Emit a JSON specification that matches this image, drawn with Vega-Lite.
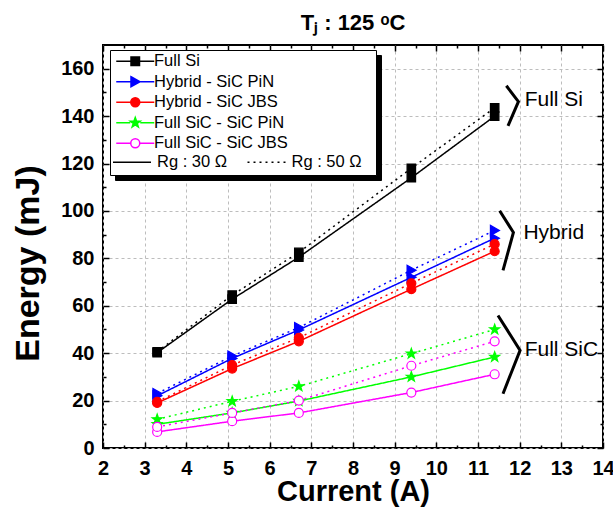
{
  "$schema": "https://vega.github.io/schema/vega-lite/v6.json",
  "width": 500,
  "height": 403,
  "autosize": {"type": "none"},
  "padding": {"left": 103, "top": 45, "right": 10, "bottom": 66},
  "background": "white",
  "config": {
    "font": "Liberation Sans",
    "view": {"stroke": "black", "strokeWidth": 2},
    "axis": {
      "labelFont": "Liberation Sans", "labelFontWeight": "bold", "labelFontSize": 20, "labelColor": "black",
      "titleFont": "Liberation Sans", "titleFontWeight": "bold", "titleColor": "black",
      "tickColor": "black", "tickWidth": 1.5, "domain": false,
      "gridColor": "#bdbdbd", "gridDash": [3, 3], "gridWidth": 1
    }
  },
  "title": {"text": "Tⱼ : 125 ᵒC", "fontSize": 22, "font": "Liberation Sans", "fontWeight": "bold", "color": "black", "anchor": "middle", "baseline": "alphabetic", "offset": 14, "dy": 22},
  "datasets": {
    "energy": [
      {"series": "Full Si", "rg": "Rg : 30 Ω", "current": 3.3, "energy": 40.2},
      {"series": "Full Si", "rg": "Rg : 30 Ω", "current": 5.1, "energy": 62.8},
      {"series": "Full Si", "rg": "Rg : 30 Ω", "current": 6.7, "energy": 80.5},
      {"series": "Full Si", "rg": "Rg : 30 Ω", "current": 9.4, "energy": 114},
      {"series": "Full Si", "rg": "Rg : 30 Ω", "current": 11.4, "energy": 140},
      {"series": "Full Si", "rg": "Rg : 50 Ω", "current": 3.3, "energy": 40.6},
      {"series": "Full Si", "rg": "Rg : 50 Ω", "current": 5.1, "energy": 64.5},
      {"series": "Full Si", "rg": "Rg : 50 Ω", "current": 6.7, "energy": 82.5},
      {"series": "Full Si", "rg": "Rg : 50 Ω", "current": 9.4, "energy": 118},
      {"series": "Full Si", "rg": "Rg : 50 Ω", "current": 11.4, "energy": 143.5},
      {"series": "Hybrid - SiC PiN", "rg": "Rg : 30 Ω", "current": 3.3, "energy": 22},
      {"series": "Hybrid - SiC PiN", "rg": "Rg : 30 Ω", "current": 5.1, "energy": 37.8},
      {"series": "Hybrid - SiC PiN", "rg": "Rg : 30 Ω", "current": 6.7, "energy": 49.8},
      {"series": "Hybrid - SiC PiN", "rg": "Rg : 30 Ω", "current": 9.4, "energy": 72},
      {"series": "Hybrid - SiC PiN", "rg": "Rg : 30 Ω", "current": 11.4, "energy": 88.5},
      {"series": "Hybrid - SiC PiN", "rg": "Rg : 50 Ω", "current": 3.3, "energy": 23},
      {"series": "Hybrid - SiC PiN", "rg": "Rg : 50 Ω", "current": 5.1, "energy": 38.8},
      {"series": "Hybrid - SiC PiN", "rg": "Rg : 50 Ω", "current": 6.7, "energy": 50.8},
      {"series": "Hybrid - SiC PiN", "rg": "Rg : 50 Ω", "current": 9.4, "energy": 75},
      {"series": "Hybrid - SiC PiN", "rg": "Rg : 50 Ω", "current": 11.4, "energy": 91.8},
      {"series": "Hybrid - SiC JBS", "rg": "Rg : 30 Ω", "current": 3.3, "energy": 19},
      {"series": "Hybrid - SiC JBS", "rg": "Rg : 30 Ω", "current": 5.1, "energy": 33.5},
      {"series": "Hybrid - SiC JBS", "rg": "Rg : 30 Ω", "current": 6.7, "energy": 45},
      {"series": "Hybrid - SiC JBS", "rg": "Rg : 30 Ω", "current": 9.4, "energy": 67},
      {"series": "Hybrid - SiC JBS", "rg": "Rg : 30 Ω", "current": 11.4, "energy": 83},
      {"series": "Hybrid - SiC JBS", "rg": "Rg : 50 Ω", "current": 3.3, "energy": 19.5},
      {"series": "Hybrid - SiC JBS", "rg": "Rg : 50 Ω", "current": 5.1, "energy": 35},
      {"series": "Hybrid - SiC JBS", "rg": "Rg : 50 Ω", "current": 6.7, "energy": 46.5},
      {"series": "Hybrid - SiC JBS", "rg": "Rg : 50 Ω", "current": 9.4, "energy": 69.5},
      {"series": "Hybrid - SiC JBS", "rg": "Rg : 50 Ω", "current": 11.4, "energy": 86},
      {"series": "Full SiC - SiC PiN", "rg": "Rg : 30 Ω", "current": 3.3, "energy": 10},
      {"series": "Full SiC - SiC PiN", "rg": "Rg : 30 Ω", "current": 5.1, "energy": 14.8},
      {"series": "Full SiC - SiC PiN", "rg": "Rg : 30 Ω", "current": 6.7, "energy": 19.8},
      {"series": "Full SiC - SiC PiN", "rg": "Rg : 30 Ω", "current": 9.4, "energy": 30},
      {"series": "Full SiC - SiC PiN", "rg": "Rg : 30 Ω", "current": 11.4, "energy": 38.4},
      {"series": "Full SiC - SiC PiN", "rg": "Rg : 50 Ω", "current": 3.3, "energy": 12.1},
      {"series": "Full SiC - SiC PiN", "rg": "Rg : 50 Ω", "current": 5.1, "energy": 19.7},
      {"series": "Full SiC - SiC PiN", "rg": "Rg : 50 Ω", "current": 6.7, "energy": 26},
      {"series": "Full SiC - SiC PiN", "rg": "Rg : 50 Ω", "current": 9.4, "energy": 39.8},
      {"series": "Full SiC - SiC PiN", "rg": "Rg : 50 Ω", "current": 11.4, "energy": 50},
      {"series": "Full SiC - SiC JBS", "rg": "Rg : 30 Ω", "current": 3.3, "energy": 6.8},
      {"series": "Full SiC - SiC JBS", "rg": "Rg : 30 Ω", "current": 5.1, "energy": 11.3},
      {"series": "Full SiC - SiC JBS", "rg": "Rg : 30 Ω", "current": 6.7, "energy": 14.8},
      {"series": "Full SiC - SiC JBS", "rg": "Rg : 30 Ω", "current": 9.4, "energy": 23.4},
      {"series": "Full SiC - SiC JBS", "rg": "Rg : 30 Ω", "current": 11.4, "energy": 31.1},
      {"series": "Full SiC - SiC JBS", "rg": "Rg : 50 Ω", "current": 3.3, "energy": 8.9},
      {"series": "Full SiC - SiC JBS", "rg": "Rg : 50 Ω", "current": 5.1, "energy": 14.8},
      {"series": "Full SiC - SiC JBS", "rg": "Rg : 50 Ω", "current": 6.7, "energy": 20},
      {"series": "Full SiC - SiC JBS", "rg": "Rg : 50 Ω", "current": 9.4, "energy": 34.7},
      {"series": "Full SiC - SiC JBS", "rg": "Rg : 50 Ω", "current": 11.4, "energy": 45}
    ],
    "braces": [
      {"group": "Full Si", "k": 1, "bx": 11.68, "by": 152.8},
      {"group": "Full Si", "k": 2, "bx": 11.97, "by": 146.1},
      {"group": "Full Si", "k": 3, "bx": 11.72, "by": 135.9},
      {"group": "Hybrid", "k": 1, "bx": 11.52, "by": 100.1},
      {"group": "Hybrid", "k": 2, "bx": 11.85, "by": 90.9},
      {"group": "Hybrid", "k": 3, "bx": 11.6, "by": 74.9},
      {"group": "Full SiC", "k": 1, "bx": 11.48, "by": 55.9},
      {"group": "Full SiC", "k": 2, "bx": 12.01, "by": 41.2},
      {"group": "Full SiC", "k": 3, "bx": 11.6, "by": 22.9}
    ],
    "labels": [
      {"label": "Full Si", "tx": 12.12, "ty": 147},
      {"label": "Hybrid", "tx": 12.09, "ty": 90.6},
      {"label": "Full SiC", "tx": 12.12, "ty": 41.2}
    ]
  },
  "layer": [
    {
      "data": {"name": "energy"},
      "mark": {"type": "point", "opacity": 0},
      "encoding": {
        "x": {"field": "current", "type": "quantitative", "scale": {"domain": [2, 14], "nice": false, "zero": false}, "axis": null},
        "y": {"field": "energy", "type": "quantitative", "scale": {"domain": [0, 170], "nice": false}, "axis": null},
        "size": {"field": "series", "type": "nominal", "scale": {"range": [100, 100]},
          "legend": {
            "orient": "none", "legendX": 12, "legendY": 10,
            "title": "Rg : 30 Ω\u00a0\u00a0\u00a0\u00a0\u00a0\u00a0\u00a0\u00a0\u00a0\u00a0\u00a0\u00a0\u00a0\u00a0\u00a0\u00a0\u00a0\u00a0\u00a0\u00a0\u00a0\u00a0\u00a0\u00a0\u00a0\u00a0Rg : 50 Ω",
            "titleOrient": "bottom", "titleColor": "transparent", "titleFontSize": 16.5, "titleFont": "Liberation Sans", "titleFontWeight": "normal", "titlePadding": 3, "titleLimit": 400,
            "labelFontSize": 16.5, "labelFont": "Liberation Sans", "labelColor": "black", "labelLimit": 400,
            "strokeColor": "black", "fillColor": "black", "padding": 3, "rowPadding": 3.5,
            "symbolOpacity": 0, "symbolOffset": 14, "labelOffset": 10.5
          }}
      }
    },
    {
      "data": {"name": "energy"},
      "mark": {"type": "line", "strokeWidth": 1.5},
      "encoding": {
        "x": {"field": "current", "type": "quantitative", "scale": {"domain": [2, 14], "nice": false, "zero": false},
          "axis": {"orient": "bottom", "values": [2, 3, 4, 5, 6, 7, 8, 9, 10, 11, 12, 13, 14], "title": "Current (A)", "titleFontSize": 29,
            "titleBaseline": "alphabetic", "titleY": 52, "tickSize": -6, "labelPadding": 16, "grid": true, "labelFlush": false}},
        "y": {"field": "energy", "type": "quantitative", "scale": {"domain": [0, 170], "nice": false},
          "axis": {"orient": "left", "values": [0, 20, 40, 60, 80, 100, 120, 140, 160], "title": "Energy (mJ)", "titleFontSize": 34,
            "titleBaseline": "alphabetic", "titleAlign": "center", "titleX": -65, "titleY": 218, "tickSize": -6, "labelPadding": 15, "grid": true, "labelFlush": false}},
        "color": {"field": "series", "type": "nominal",
          "scale": {"domain": ["Full Si", "Hybrid - SiC PiN", "Hybrid - SiC JBS", "Full SiC - SiC PiN", "Full SiC - SiC JBS"], "range": ["#000000", "#0000ff", "#ff0000", "#00ff00", "#ff00ff"]},
          "legend": {
            "orient": "none", "legendX": 7, "legendY": 5,
            "title": "Rg : 30 Ω\u00a0\u00a0\u00a0\u00a0\u00a0\u00a0\u00a0\u00a0\u00a0\u00a0\u00a0\u00a0\u00a0\u00a0\u00a0\u00a0\u00a0\u00a0\u00a0\u00a0\u00a0\u00a0\u00a0\u00a0\u00a0\u00a0Rg : 50 Ω",
            "titleOrient": "bottom", "titleColor": "transparent", "titleFontSize": 16.5, "titleFont": "Liberation Sans", "titleFontWeight": "normal", "titlePadding": 3, "titleLimit": 400,
            "labelFontSize": 16.5, "labelFont": "Liberation Sans", "labelColor": "black", "labelLimit": 400,
            "strokeColor": "black", "fillColor": "white", "padding": 3, "rowPadding": 3.5,
            "symbolSize": 100, "symbolOffset": 14, "labelOffset": 10.5, "symbolStrokeWidth": 1.5,
            "encode": {
              "symbols": {
                "update": {
                  "shape": {"signal": "datum.value === 'Full Si' ? 'M-3.8,0H-1M1,0H3.8M-0.85,-0.85H0.85V0.85H-0.85Z' : datum.value === 'Hybrid - SiC PiN' ? 'M-3.8,0H-1M1,0H3.8M-0.85,-1L0.95,0L-0.85,1Z' : datum.value === 'Full SiC - SiC PiN' ? 'M-3.8,0H-1M1,0H3.8M0,-1.05L0.247,-0.34L0.999,-0.325L0.399,0.13L0.617,0.85L0,0.42L-0.617,0.85L-0.399,0.13L-0.999,-0.325L-0.247,-0.34Z' : datum.value === 'Hybrid - SiC JBS' ? 'M-3.8,0H-1M1,0H3.8M-0.9,0A0.9,0.9,0,1,0,0.9,0A0.9,0.9,0,1,0,-0.9,0Z' : 'M-3.8,0H-0.9M0.9,0H3.8M-0.9,0A0.9,0.9,0,1,0,0.9,0A0.9,0.9,0,1,0,-0.9,0Z'"},
                  "fill": {"signal": "datum.value === 'Full SiC - SiC JBS' ? '#ffffff' : datum.value === 'Full Si' ? '#000000' : datum.value === 'Hybrid - SiC PiN' ? '#0000ff' : datum.value === 'Hybrid - SiC JBS' ? '#ff0000' : '#00ff00'"},
                  "stroke": {"signal": "datum.value === 'Full SiC - SiC JBS' ? '#ff00ff' : datum.value === 'Full Si' ? '#000000' : datum.value === 'Hybrid - SiC PiN' ? '#0000ff' : datum.value === 'Hybrid - SiC JBS' ? '#ff0000' : '#00ff00'"},
                  "strokeWidth": {"value": 1.5},
                  "opacity": {"value": 1}
                }
              }
            }
          }},
        "strokeDash": {"field": "rg", "type": "nominal",
          "scale": {"domain": ["Rg : 30 Ω", "Rg : 50 Ω"], "range": [[1, 0], [2, 4]]},
          "legend": {
            "orient": "none", "legendX": 9, "legendY": 97, "direction": "horizontal", "title": null,
            "symbolType": "stroke", "symbolSize": 1444, "symbolStrokeWidth": 1.5, "symbolStrokeColor": "black",
            "labelFontSize": 16.5, "labelFont": "Liberation Sans", "labelColor": "black", "labelOffset": 5, "columnPadding": 16.5,
            "padding": 0, "labelLimit": 300
          }}
      }
    },
    {
      "data": {"name": "energy"},
      "mark": {"type": "point", "size": 100, "strokeWidth": 1.2, "opacity": 1},
      "encoding": {
        "x": {"field": "current", "type": "quantitative", "scale": {"domain": [2, 14], "nice": false, "zero": false},
          "axis": {"orient": "top", "values": [2, 3, 4, 5, 6, 7, 8, 9, 10, 11, 12, 13, 14], "labels": false, "title": null, "tickSize": -6, "grid": false}},
        "y": {"field": "energy", "type": "quantitative", "scale": {"domain": [0, 170], "nice": false},
          "axis": {"orient": "right", "values": [0, 20, 40, 60, 80, 100, 120, 140, 160], "labels": false, "title": null, "tickSize": -6, "grid": false}},
        "shape": {"field": "series", "type": "nominal",
          "scale": {"domain": ["Full SiC - SiC JBS", "Full SiC - SiC PiN", "Hybrid - SiC JBS", "Hybrid - SiC PiN", "Full Si"],
            "range": ["M-0.9,0A0.9,0.9,0,1,0,0.9,0A0.9,0.9,0,1,0,-0.9,0Z", "M0,-1.05L0.247,-0.34L0.999,-0.325L0.399,0.13L0.617,0.85L0,0.42L-0.617,0.85L-0.399,0.13L-0.999,-0.325L-0.247,-0.34Z", "M-0.9,0A0.9,0.9,0,1,0,0.9,0A0.9,0.9,0,1,0,-0.9,0Z", "M-0.85,-1L0.95,0L-0.85,1Z", "M-0.85,-0.85H0.85V0.85H-0.85Z"]},
          "legend": null},
        "stroke": {"field": "series", "type": "nominal",
          "scale": {"domain": ["Full SiC - SiC JBS", "Full SiC - SiC PiN", "Hybrid - SiC JBS", "Hybrid - SiC PiN", "Full Si"], "range": ["#ff00ff", "#00ff00", "#ff0000", "#0000ff", "#000000"]},
          "legend": null},
        "fill": {"field": "series", "type": "nominal",
          "scale": {"domain": ["Full SiC - SiC JBS", "Full SiC - SiC PiN", "Hybrid - SiC JBS", "Hybrid - SiC PiN", "Full Si"], "range": ["#ffffff", "#00ff00", "#ff0000", "#0000ff", "#000000"]},
          "legend": null}
      }
    },
    {
      "data": {"name": "braces"},
      "mark": {"type": "line", "strokeWidth": 3, "color": "black", "strokeCap": "butt", "strokeJoin": "miter"},
      "encoding": {
        "x": {"field": "bx", "type": "quantitative", "scale": {"domain": [2, 14], "nice": false, "zero": false},
          "axis": {"orient": "bottom", "values": [2.5, 3.5, 4.5, 5.5, 6.5, 7.5, 8.5, 9.5, 10.5, 11.5, 12.5, 13.5], "labels": false, "title": null, "tickSize": -3, "grid": false}},
        "y": {"field": "by", "type": "quantitative", "scale": {"domain": [0, 170], "nice": false},
          "axis": {"orient": "left", "values": [10, 30, 50, 70, 90, 110, 130, 150], "labels": false, "title": null, "tickSize": -3, "grid": false}},
        "detail": {"field": "group"},
        "order": {"field": "k"}
      }
    },
    {
      "data": {"name": "labels"},
      "mark": {"type": "text", "align": "left", "baseline": "middle", "fontSize": 21, "font": "Liberation Sans", "color": "black"},
      "encoding": {
        "x": {"field": "tx", "type": "quantitative", "scale": {"domain": [2, 14], "nice": false, "zero": false},
          "axis": {"orient": "top", "values": [2.5, 3.5, 4.5, 5.5, 6.5, 7.5, 8.5, 9.5, 10.5, 11.5, 12.5, 13.5], "labels": false, "title": null, "tickSize": -3, "grid": false}},
        "y": {"field": "ty", "type": "quantitative", "scale": {"domain": [0, 170], "nice": false},
          "axis": {"orient": "right", "values": [10, 30, 50, 70, 90, 110, 130, 150], "labels": false, "title": null, "tickSize": -3, "grid": false}},
        "text": {"field": "label"}
      }
    }
  ],
  "resolve": {"axis": {"x": "independent", "y": "independent"}}
}
